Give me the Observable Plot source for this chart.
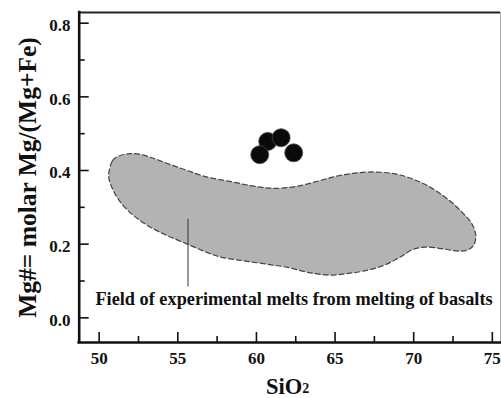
<!DOCTYPE html>
<html><head><meta charset="utf-8">
<script src="https://cdn.jsdelivr.net/npm/d3@7"></script>
<script src="https://cdn.jsdelivr.net/npm/@observablehq/plot@0.6"></script>
<style>html,body{margin:0;padding:0;background:#fff;overflow:hidden}</style>
</head><body><div id="chart"></div>
<script>
// ---- data ----
const xDomain = [48.73, 75.52];
const yDomain = [-0.067, 0.829];
const xMajorTicks = [50, 55, 60, 65, 70, 75];
const xMinorTicks = [52.5, 57.5, 62.5, 67.5, 72.5];
const yMajorTicks = [0, 0.2, 0.4, 0.6, 0.8];
const yMinorTicks = [0.1, 0.3, 0.5, 0.7];

// sample points (drawn in this order)
const sampleSiO2 = [60.72, 60.21, 61.57, 62.37];
const sampleMg   = [0.479, 0.443, 0.489, 0.448];

// outline of the experimental-melt field
const fieldSiO2 = [50.62, 50.85, 51.23, 51.80, 52.43, 53.26, 54.34, 55.61, 56.89, 58.35,
  59.62, 60.58, 61.53, 62.80, 64.07, 65.15, 66.29, 67.44, 68.65, 69.60,
  70.87, 72.14, 73.16, 73.73, 73.95, 73.80, 73.41, 72.84, 71.89, 70.74,
  69.92, 69.15, 68.07, 66.80, 65.72, 64.70, 63.43, 61.97, 60.45, 58.98,
  57.71, 56.89, 55.61, 54.34, 53.26, 52.18, 51.35, 50.85, 50.62];
const fieldMg = [0.395, 0.427, 0.439, 0.445, 0.445, 0.436, 0.419, 0.400, 0.382, 0.370,
  0.359, 0.353, 0.352, 0.359, 0.373, 0.385, 0.393, 0.396, 0.392, 0.382,
  0.359, 0.323, 0.283, 0.253, 0.221, 0.196, 0.184, 0.181, 0.187, 0.192,
  0.185, 0.165, 0.142, 0.127, 0.120, 0.116, 0.122, 0.137, 0.147, 0.156,
  0.165, 0.177, 0.200, 0.223, 0.246, 0.278, 0.314, 0.350, 0.378];

const pointerSiO2 = [55.65, 55.65];
const pointerMg = [0.269, 0.085];

const fieldLabel = "Field of experimental melts from melting of basalts";
const fieldLabelSiO2 = [49.76];
const fieldLabelMg = [0.0516];

const xTitle = "SiO";
const xTitleSub = "2";
const yTitle = "Mg#= molar Mg/(Mg+Fe)";

// ---- tables ----
const field = fieldSiO2.map((x, i) => ({x, y: fieldMg[i]}));
const samples = sampleSiO2.map((x, i) => ({x, y: sampleMg[i]}));
const pointer = [{x1: pointerSiO2[0], y1: pointerMg[0], x2: pointerSiO2[1], y2: pointerMg[1]}];
const labelRow = [{x: fieldLabelSiO2[0], y: fieldLabelMg[0], t: fieldLabel}];

const W = 501, H = 398;
const mL = 78.7, mR = 1, mT = 12, mB = 56;
const fw = W - mL - mR, fh = H - mT - mB;
const serif = "'Liberation Serif', 'Times New Roman', Times, serif";

const chart = Plot.plot({
  width: W, height: H,
  marginLeft: mL, marginRight: mR, marginTop: mT, marginBottom: mB,
  x: {domain: xDomain},
  y: {domain: yDomain},
  style: {fontFamily: serif, fontWeight: "bold", fontSize: "17px", color: "#111", background: "#fff"},
  marks: [
    Plot.line(field, {x: "x", y: "y", curve: "catmull-rom-closed", fill: "#b3b3b3", stroke: "#444", strokeWidth: 1.2, strokeDasharray: "5,3"}),
    Plot.link(pointer, {x1: "x1", y1: "y1", x2: "x2", y2: "y2", stroke: "#333", strokeWidth: 1}),
    Plot.dot(samples, {x: "x", y: "y", r: 9, fill: "#0a0a0a", stroke: "#444", strokeWidth: 0.8}),
    Plot.text(labelRow, {x: "x", y: "y", text: "t", textAnchor: "start", lineAnchor: "middle", fontSize: 18.3, fontFamily: serif, fontWeight: "bold", fill: "#111"}),
    // ticks (inward)
    Plot.ruleX(xMajorTicks, {x: d => d, insetTop: fh - 10, stroke: "#111", strokeWidth: 1.6}),
    Plot.ruleX(xMinorTicks, {x: d => d, insetTop: fh - 6, stroke: "#111", strokeWidth: 1.6}),
    Plot.ruleY(yMajorTicks, {y: d => d, insetRight: fw - 10, stroke: "#111", strokeWidth: 1.6}),
    Plot.ruleY(yMinorTicks, {y: d => d, insetRight: fw - 6, stroke: "#111", strokeWidth: 1.6}),
    // frame
    Plot.ruleX([xDomain[1]], {stroke: "#aaa", strokeWidth: 1}),
    Plot.ruleY([yDomain[1]], {stroke: "#222", strokeWidth: 2.2}),
    Plot.ruleX([xDomain[0]], {stroke: "#111", strokeWidth: 2.6, strokeLinecap: "square"}),
    Plot.ruleY([yDomain[0]], {stroke: "#111", strokeWidth: 2.6, strokeLinecap: "square"}),
    // tick labels
    Plot.axisX({ticks: xMajorTicks, tickSize: 0, tickPadding: 9, tickFormat: d => String(d), fontSize: 17, fontFamily: serif, fontWeight: "bold"}),
    Plot.axisY({ticks: yMajorTicks, tickSize: 0, tickPadding: 8.7, tickFormat: d3.format(".1f"), dy: 2.5, fontSize: 17, fontFamily: serif, fontWeight: "bold"}),
    // titles
    Plot.text([xTitle], {text: d => d, frameAnchor: "bottom", textAnchor: "end", lineAnchor: "middle", dx: 12.35, dy: 44, fontSize: 22.5, fontFamily: serif, fontWeight: "bold", fill: "#111"}),
    Plot.text([xTitleSub], {text: d => d, frameAnchor: "bottom", textAnchor: "start", lineAnchor: "middle", dx: 12.35, dy: 46.5, fontSize: 14, fontFamily: serif, fontWeight: "bold", fill: "#111"}),
    Plot.text([yTitle], {text: d => d, frameAnchor: "left", rotate: -90, textAnchor: "middle", lineAnchor: "middle", dx: -51.4, fontSize: 25.5, fontFamily: serif, fontWeight: "bold", fill: "#111"})
  ]
});
document.getElementById("chart").appendChild(chart);
</script>
</body></html>
